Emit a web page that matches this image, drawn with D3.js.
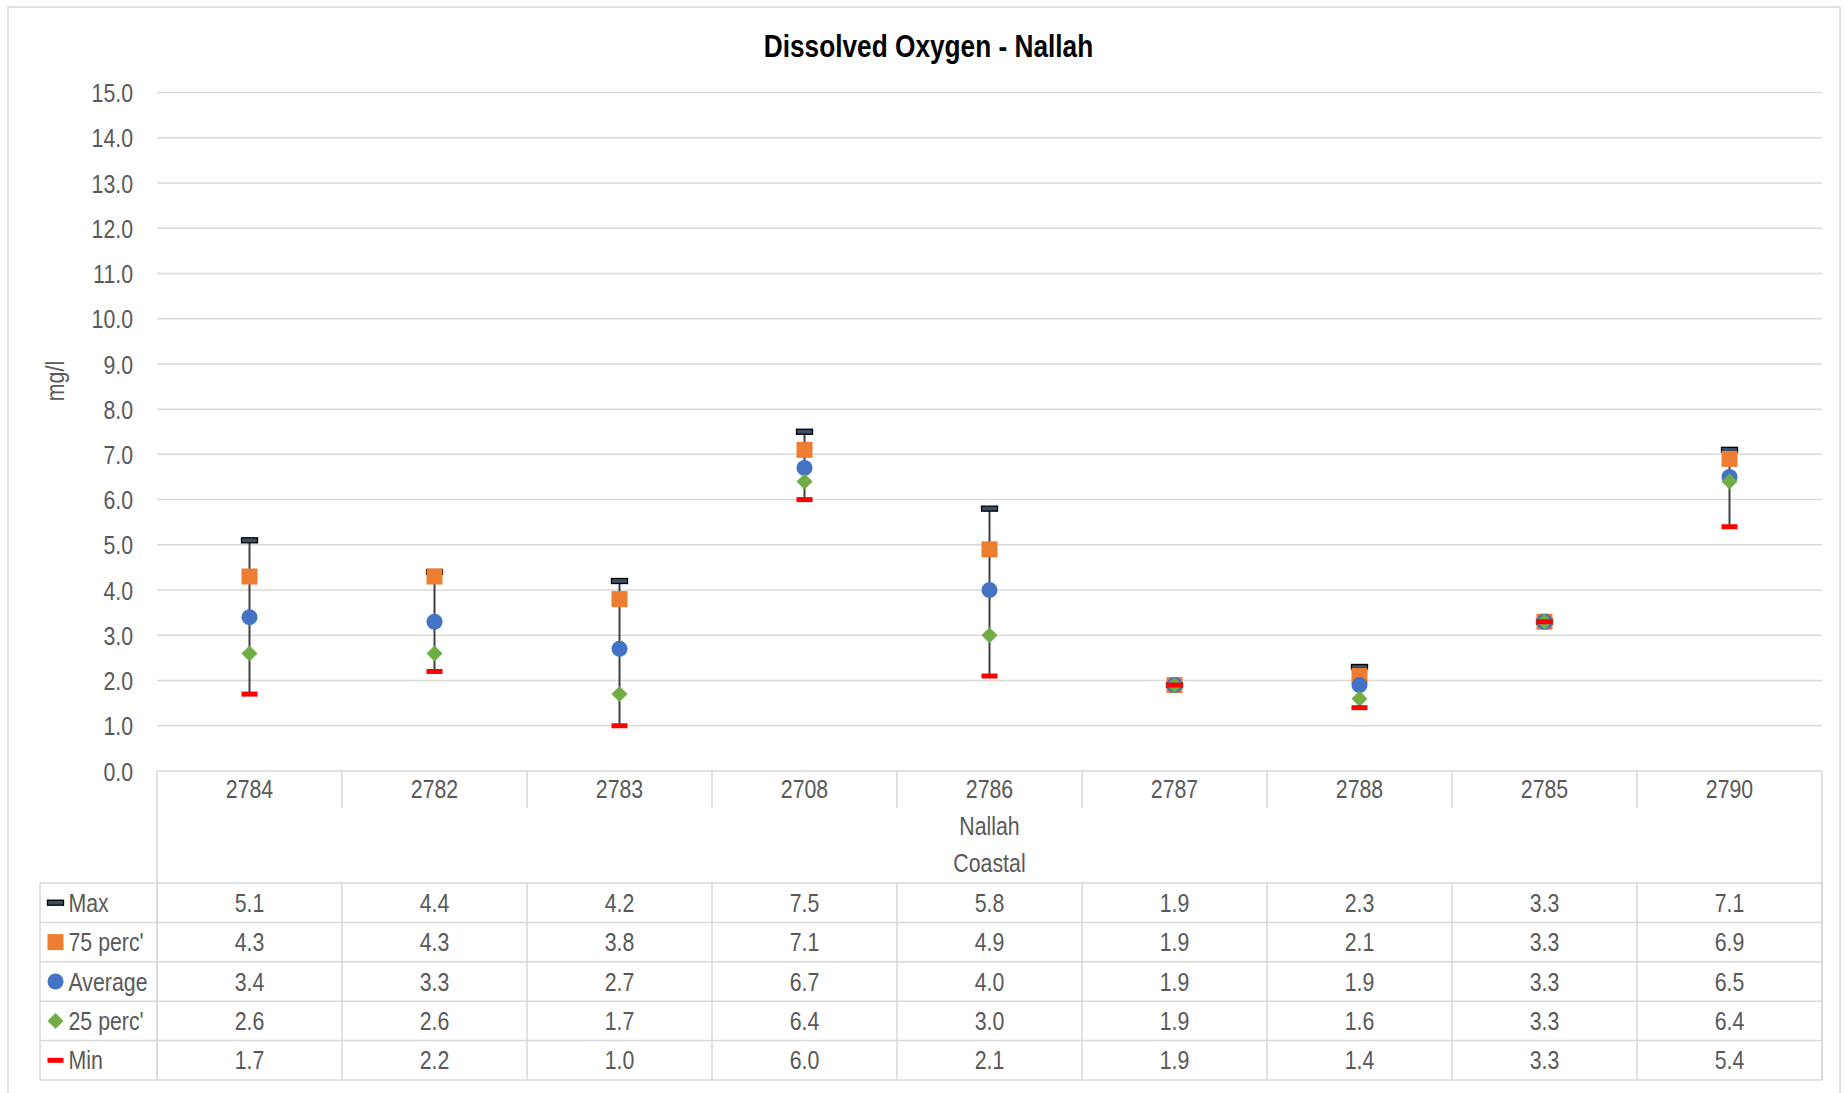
<!DOCTYPE html>
<html>
<head>
<meta charset="utf-8">
<script src="https://cdn.jsdelivr.net/npm/d3@7"></script>
<style>
html,body{margin:0;padding:0;background:#fff;}
svg{display:block;}
</style>
</head>
<body>
<script>
// ---- data ----
const categories = ["2784","2782","2783","2708","2786","2787","2788","2785","2790"];
const maxVals  = [5.1,4.4,4.2,7.5,5.8,1.9,2.3,3.3,7.1];
const p75Vals  = [4.3,4.3,3.8,7.1,4.9,1.9,2.1,3.3,6.9];
const avgVals  = [3.4,3.3,2.7,6.7,4.0,1.9,1.9,3.3,6.5];
const p25Vals  = [2.6,2.6,1.7,6.4,3.0,1.9,1.6,3.3,6.4];
const minVals  = [1.7,2.2,1.0,6.0,2.1,1.9,1.4,3.3,5.4];
const yTicks   = [0,1,2,3,4,5,6,7,8,9,10,11,12,13,14,15];
const seriesNames = ["Max","75 perc'","Average","25 perc'","Min"];
const titleText = "Dissolved Oxygen - Nallah";
const yTitle = "mg/l";
const axisGroupLabels = ["Nallah","Coastal"];

const W = 1846, H = 1093;
const svg = d3.select("body").append("svg").attr("width", W).attr("height", H);

// narrow look: Liberation Sans compressed horizontally
const FAM = "'Liberation Sans', Arial, sans-serif";
const SX = 0.82;

const TXT = "#595959", GRID = "#D9D9D9";
function txt(parent, x, y, s, o = {}) {
  const g = parent.append("g").attr("transform", `translate(${x},${y}) rotate(${o.rotate||0}) scale(${SX},1)`);
  g.append("text").attr("text-anchor", o.anchor || "middle")
    .style("font-family", FAM).style("font-size", (o.size||26) + "px")
    .style("font-weight", o.weight || "normal").attr("fill", o.fill || TXT).text(s);
  return g;
}

// outer border
svg.append("rect").attr("x", 8).attr("y", 7).attr("width", 1832).attr("height", 1100)
  .attr("fill", "none").attr("stroke", GRID).attr("stroke-width", 1.5);

const L = 157, R = 1822, T = 92.5, B = 771;
const x = d3.scaleBand().domain(categories).range([L, R]).padding(0);
const y = d3.scaleLinear().domain([0, 15]).range([B, T]);

// title
txt(svg, 928.5, 57, titleText, {size: 32, weight: "bold", fill: "#000"});

// gridlines
svg.append("g").selectAll("line").data(yTicks).join("line")
  .attr("x1", L).attr("x2", R).attr("y1", d => y(d)).attr("y2", d => y(d))
  .attr("stroke", GRID).attr("stroke-width", 1.5);

// y axis labels
const yAxis = svg.append("g").attr("transform", `translate(${L},0)`)
  .call(d3.axisLeft(y).tickValues(yTicks).tickFormat(d3.format(".1f")).tickSize(0).tickPadding(24));
yAxis.select(".domain").remove();
yAxis.selectAll("text")
  .style("font-family", FAM).style("font-size", "26px").attr("fill", TXT)
  .attr("dy", "0.35em")
  .attr("x", -24 / SX).attr("transform", `scale(${SX},1)`);

// y title
txt(svg, 64, 381, yTitle, {rotate: -90});

// category axis
const xAxis = svg.append("g").attr("transform", `translate(0,${B})`)
  .call(d3.axisBottom(x).tickSize(0).tickPadding(8.5));
xAxis.select(".domain").remove();
xAxis.selectAll("text")
  .style("font-family", FAM).style("font-size", "26px").attr("fill", TXT)
  .attr("transform", `scale(${SX},1)`).attr("x", 0);

// category separators
const bounds = categories.map((c) => x(c)).concat([R]);
svg.append("g").selectAll("line").data(bounds).join("line")
  .attr("x1", d => d).attr("x2", d => d)
  .attr("y1", B).attr("y2", (d, i) => (i === 0 || i === bounds.length - 1) ? 1080 : 808)
  .attr("stroke", GRID).attr("stroke-width", 1.5);

// group labels
txt(svg, (L + R) / 2, 835, axisGroupLabels[0]);
txt(svg, (L + R) / 2, 872, axisGroupLabels[1]);

// data table
const series = [maxVals, p75Vals, avgVals, p25Vals, minVals];
const rowTop = 883, rowH = 39.4, TL = 40;
const rowYs = d3.range(series.length + 1).map(i => rowTop + i * rowH);
svg.append("g").selectAll("line").data(rowYs).join("line")
  .attr("x1", TL).attr("x2", R).attr("y1", d => d).attr("y2", d => d)
  .attr("stroke", GRID).attr("stroke-width", 1.5);
const tableCols = [TL].concat(bounds);
svg.append("g").selectAll("line").data(tableCols).join("line")
  .attr("x1", d => d).attr("x2", d => d).attr("y1", rowTop).attr("y2", rowYs[rowYs.length - 1])
  .attr("stroke", GRID).attr("stroke-width", 1.5);

const fmt = d3.format(".1f");
series.forEach((vals, si) => {
  const cy = rowTop + si * rowH + rowH / 2;
  vals.forEach((v, ci) => {
    txt(svg, x(categories[ci]) + x.bandwidth() / 2, cy + 9, fmt(v));
  });
  txt(svg, 68.5, cy + 9, seriesNames[si], {anchor: "start"});
});

// marker drawers
const COL = {max: "#3B4E66", p75: "#ED7D31", avg: "#4472C4", p25: "#70AD47", min: "#FF0000"};
function drawMarker(g, kind, cx, cy) {
  if (kind === 0) {
    g.append("rect").attr("x", cx - 8).attr("y", cy - 2.5).attr("width", 16).attr("height", 5)
      .attr("fill", COL.max).attr("stroke", "#000").attr("stroke-width", 1.3);
  } else if (kind === 1) {
    g.append("rect").attr("x", cx - 8).attr("y", cy - 8).attr("width", 16).attr("height", 16)
      .attr("fill", COL.p75);
  } else if (kind === 2) {
    g.append("circle").attr("cx", cx).attr("cy", cy).attr("r", 8).attr("fill", COL.avg);
  } else if (kind === 3) {
    g.append("path").attr("d", `M${cx},${cy - 8}L${cx + 8},${cy}L${cx},${cy + 8}L${cx - 8},${cy}Z`)
      .attr("fill", COL.p25);
  } else {
    g.append("rect").attr("x", cx - 8).attr("y", cy - 2.5).attr("width", 16).attr("height", 5)
      .attr("fill", COL.min);
  }
}

// legend keys
const lg = svg.append("g");
series.forEach((vals, si) => {
  const cy = rowTop + si * rowH + rowH / 2;
  drawMarker(lg, si, 55.5, cy);
});

// hi-lo lines
const plot = svg.append("g");
plot.selectAll("line.hl").data(categories).join("line").attr("class", "hl")
  .attr("x1", d => x(d) + x.bandwidth() / 2).attr("x2", d => x(d) + x.bandwidth() / 2)
  .attr("y1", (d, i) => y(maxVals[i])).attr("y2", (d, i) => y(minVals[i]))
  .attr("stroke", "#404040").attr("stroke-width", 2);

// markers
series.forEach((vals, si) => {
  vals.forEach((v, ci) => {
    drawMarker(plot, si, x(categories[ci]) + x.bandwidth() / 2, y(v));
  });
});
</script>
</body>
</html>
